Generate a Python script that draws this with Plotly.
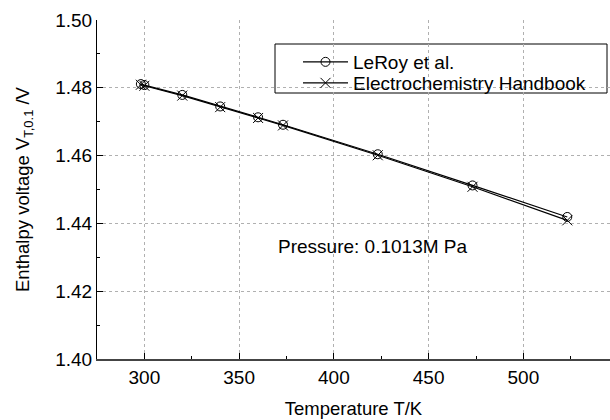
import plotly.graph_objects as go

# Data
temps = [298.15, 300, 320, 340, 360, 373.15, 423.15, 473.15, 523.15]
leroy = [1.4811, 1.4808, 1.4779, 1.4745, 1.4713, 1.4691, 1.4604, 1.4512, 1.4419]
handbook = [1.4809, 1.4806, 1.4777, 1.4743, 1.4711, 1.4689, 1.4601, 1.4508, 1.4409]
series_names = ["LeRoy et al.", "Electrochemistry Handbook"]

FONT = "Arial, Liberation Sans, sans-serif"
L, T, W, H = 97, 20, 513, 339


def px_x(p):
    return (p - L) / W


def px_y(p):
    return (T + H - p) / H


fig = go.Figure()
fig.add_trace(go.Scatter(
    x=temps, y=leroy, mode="lines+markers", name=series_names[0], legend="legend",
    line=dict(color="black", width=1.2),
    marker=dict(symbol="circle-open", size=9, color="black", line=dict(width=1)),
))
fig.add_trace(go.Scatter(
    x=temps, y=handbook, mode="lines+markers", name=series_names[1], legend="legend2",
    line=dict(color="black", width=1.2),
    marker=dict(symbol="x-thin-open", size=10, color="black", line=dict(width=1)),
))

leg_common = dict(xanchor="left", yanchor="middle", bgcolor="rgba(255,255,255,0)",
                  borderwidth=0, font=dict(size=19), itemwidth=45)

fig.update_layout(
    width=610, height=420,
    margin=dict(l=L, r=610 - L - W, t=T, b=420 - T - H),
    paper_bgcolor="white", plot_bgcolor="white",
    font=dict(family=FONT, size=19, color="black"),
    showlegend=True,
    legend=dict(x=px_x(298), y=px_y(62), **leg_common),
    legend2=dict(x=px_x(298), y=px_y(83), **leg_common),
    shapes=[dict(type="rect", xref="paper", yref="paper",
                 x0=px_x(275), x1=px_x(607), y0=px_y(93), y1=px_y(44),
                 line=dict(color="black", width=1), fillcolor="white", layer="below")],
    annotations=[dict(text="Pressure: 0.1013M Pa", xref="paper", yref="paper",
                      x=px_x(276), y=px_y(246), xanchor="left", yanchor="middle",
                      showarrow=False, font=dict(size=19))],
)

fig.update_xaxes(
    range=[275, 545.7], tickmode="linear", tick0=300, dtick=50,
    ticks="inside", ticklen=6, tickwidth=1, tickcolor="black",
    tickfont=dict(size=19),
    minor=dict(ticks="inside", ticklen=3, dtick=25, tick0=275, tickcolor="black", showgrid=False),
    showline=True, linecolor="#444", linewidth=1.5,
    showgrid=True, gridcolor="#b0b0b0", griddash="dot", gridwidth=1,
    zeroline=False,
    title=dict(text="Temperature T/K", standoff=16, font=dict(size=18.5)),
)
fig.update_yaxes(
    range=[1.40, 1.50], tickmode="linear", tick0=1.40, dtick=0.02, tickformat=".2f",
    ticks="inside", ticklen=6, tickwidth=1, tickcolor="black",
    tickfont=dict(size=19),
    minor=dict(ticks="inside", ticklen=3, dtick=0.01, tickcolor="black", showgrid=False),
    showline=True, linecolor="black", linewidth=1,
    showgrid=True, gridcolor="#b0b0b0", griddash="dot", gridwidth=1,
    zeroline=False,
    title=dict(text="Enthalpy voltage V<sub>T,0.1</sub> /V", standoff=20, font=dict(size=18.5)),
)

fig.write_html("out.html")
